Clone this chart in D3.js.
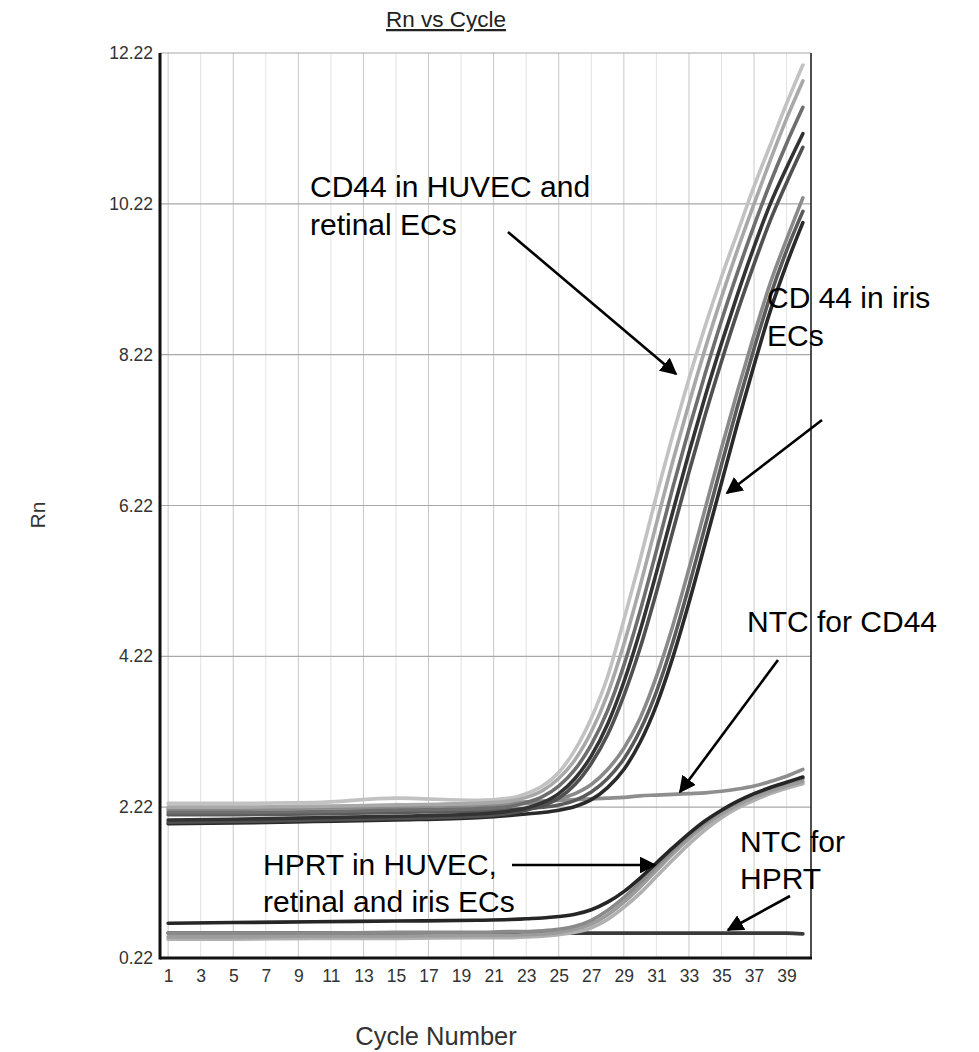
<!DOCTYPE html>
<html><head><meta charset="utf-8">
<script src="https://cdn.jsdelivr.net/npm/d3@7"></script>
<style>body{margin:0;background:#fff}svg{display:block}text{font-family:"Liberation Sans",Arial,sans-serif}</style>
</head><body><svg id="c" width="979" height="1052"></svg>
<script>
// ---- data ----
const cycles = [1,5,10,15,20,22,23,24,25,26,27,28,29,30,31,32,33,34,35,36,37,38,39,40];
const xTicks = d3.range(1,40,2);
const yTicks = [0.22,2.22,4.22,6.22,8.22,10.22,12.22];
// CD44 in HUVEC and retinal ECs
const cd44L1 = [2.27,2.27,2.28,2.34,2.31,2.34,2.40,2.50,2.68,2.98,3.40,3.95,4.70,5.50,6.35,7.15,7.90,8.60,9.25,9.85,10.45,11.00,11.55,12.06];
const cd44L2 = [2.22,2.22,2.23,2.25,2.27,2.30,2.35,2.44,2.60,2.85,3.22,3.72,4.38,5.15,5.98,6.80,7.57,8.30,8.98,9.62,10.22,10.80,11.35,11.85];
const cd44L3 = [2.15,2.15,2.16,2.18,2.20,2.23,2.28,2.36,2.50,2.72,3.05,3.50,4.10,4.82,5.62,6.45,7.23,7.97,8.67,9.32,9.93,10.50,11.02,11.50];
const cd44L4 = [2.05,2.06,2.08,2.10,2.13,2.17,2.21,2.28,2.40,2.60,2.90,3.32,3.88,4.56,5.33,6.13,6.92,7.67,8.37,9.03,9.65,10.22,10.70,11.15];
const cd44L5 = [2.02,2.03,2.05,2.07,2.10,2.14,2.18,2.24,2.34,2.52,2.80,3.18,3.70,4.33,5.07,5.87,6.66,7.42,8.13,8.80,9.42,10.00,10.50,10.97];
// CD44 in iris ECs
const cd44R1 = [2.20,2.20,2.21,2.22,2.24,2.26,2.27,2.29,2.33,2.40,2.52,2.72,3.00,3.40,3.95,4.62,5.38,6.18,6.98,7.75,8.48,9.17,9.75,10.30];
const cd44R2 = [2.12,2.12,2.13,2.15,2.17,2.19,2.20,2.22,2.25,2.31,2.42,2.60,2.86,3.24,3.75,4.40,5.15,5.95,6.76,7.55,8.30,9.00,9.60,10.12];
const cd44R3 = [2.00,2.01,2.03,2.05,2.08,2.11,2.13,2.15,2.18,2.23,2.32,2.48,2.72,3.08,3.57,4.20,4.93,5.72,6.52,7.32,8.08,8.80,9.42,9.97];
// NTC for CD44
const ntcCD44 = [2.18,2.19,2.21,2.23,2.27,2.28,2.29,2.30,2.31,2.32,2.33,2.34,2.35,2.37,2.38,2.39,2.40,2.41,2.43,2.46,2.50,2.56,2.63,2.72];
// HPRT in HUVEC, retinal and iris ECs
const hprtH1 = [0.68,0.69,0.70,0.71,0.72,0.73,0.74,0.75,0.77,0.80,0.86,0.96,1.10,1.28,1.48,1.68,1.87,2.04,2.18,2.30,2.40,2.48,2.55,2.62];
const hprtH2 = [0.55,0.55,0.55,0.56,0.56,0.57,0.57,0.58,0.60,0.64,0.72,0.85,1.02,1.22,1.44,1.65,1.85,2.02,2.17,2.29,2.39,2.47,2.54,2.60];
const hprtH3 = [0.50,0.50,0.51,0.51,0.52,0.52,0.53,0.54,0.56,0.60,0.67,0.79,0.96,1.16,1.38,1.60,1.80,1.98,2.13,2.25,2.35,2.43,2.50,2.56];
const hprtH4 = [0.47,0.47,0.48,0.48,0.49,0.49,0.50,0.51,0.53,0.56,0.62,0.73,0.89,1.08,1.30,1.52,1.73,1.92,2.08,2.21,2.31,2.40,2.47,2.53];
// NTC for HPRT
const ntcHPRT = [0.55,0.55,0.55,0.55,0.55,0.55,0.55,0.55,0.55,0.55,0.55,0.55,0.55,0.55,0.55,0.55,0.55,0.55,0.55,0.55,0.55,0.55,0.55,0.54];

const series = [
  {v:ntcHPRT,c:"#3a3a3a"},
  {v:hprtH4,c:"#b0b0b0"},{v:hprtH3,c:"#9c9c9c"},{v:hprtH2,c:"#8a8a8a"},{v:hprtH1,c:"#262626"},
  {v:ntcCD44,c:"#8e8e8e"},
  {v:cd44R1,c:"#8a8a8a"},{v:cd44R2,c:"#5a5a5a"},{v:cd44R3,c:"#2a2a2a"},
  {v:cd44L1,c:"#c2c2c2"},{v:cd44L2,c:"#a8a8a8"},{v:cd44L3,c:"#6e6e6e"},{v:cd44L5,c:"#505050"},{v:cd44L4,c:"#333333"}
];

// ---- layout ----
const svg = d3.select("#c");
const X0=160, X1=811, Y0=958, Y1=53;
const x = d3.scaleLinear().domain([0.5,40.5]).range([X0,X1]);
const y = d3.scaleLinear().domain([0.22,12.22]).range([Y0,Y1]);

// grid
const g = svg.append("g");
g.selectAll(".vg").data(xTicks).join("line")
  .attr("x1",d=>x(d)).attr("x2",d=>x(d)).attr("y1",Y1).attr("y2",Y0)
  .attr("stroke",(d,i)=> i%2===0 ? "#c8c8c8" : "#e2e2e2").attr("stroke-width",1);
g.selectAll(".hg").data(yTicks.slice(1)).join("line")
  .attr("x1",X0).attr("x2",X1).attr("y1",d=>y(d)).attr("y2",d=>y(d))
  .attr("stroke","#a8a8a8").attr("stroke-width",1.2);

// curves
const line = d3.line().x((d,i)=>x(cycles[i])).y(d=>y(d)).curve(d3.curveMonotoneX);
svg.append("g").selectAll("path").data(series).join("path")
  .attr("d",d=>line(d.v)).attr("fill","none").attr("stroke",d=>d.c)
  .attr("stroke-width",3.6).attr("stroke-linecap","round");

// frame
svg.append("line").attr("x1",X1).attr("x2",X1).attr("y1",Y1).attr("y2",Y0).attr("stroke","#222").attr("stroke-width",1.6);
svg.append("line").attr("x1",X0).attr("x2",X1+1).attr("y1",Y0).attr("y2",Y0).attr("stroke","#111").attr("stroke-width",3);
svg.append("line").attr("x1",X0).attr("x2",X0).attr("y1",Y1).attr("y2",Y0+1.5).attr("stroke","#111").attr("stroke-width",3);

// axes labels
const yAxis = d3.axisLeft(y).tickValues(yTicks).tickFormat(d3.format(".2f")).tickSize(0).tickPadding(7);
const ya = svg.append("g").attr("transform",`translate(${X0},0)`).call(yAxis);
ya.select(".domain").remove();
ya.selectAll("text").attr("font-size",17.5).attr("fill","#333").style("font-family","Liberation Sans, Arial");
const xAxis = d3.axisBottom(x).tickValues(xTicks).tickFormat(d3.format("d")).tickSize(0).tickPadding(12);
const xa = svg.append("g").attr("transform",`translate(0,${Y0})`).call(xAxis);
xa.select(".domain").remove();
xa.selectAll("text").attr("font-size",17.5).attr("fill","#333").style("font-family","Liberation Sans, Arial");

// titles
svg.append("text").attr("x",446).attr("y",27).attr("text-anchor","middle").attr("font-size",22.5).attr("fill","#222")
  .attr("text-decoration","underline").text("Rn vs Cycle");
svg.append("text").attr("transform","translate(45,515) rotate(-90)").attr("text-anchor","middle").attr("font-size",21).attr("fill","#333").text("Rn");
svg.append("text").attr("x",436).attr("y",1045).attr("text-anchor","middle").attr("font-size",25.5).attr("fill","#333").text("Cycle Number");

// annotations
const notes = [
  {t:"CD44 in HUVEC and",x:310,y:197},{t:"retinal ECs",x:310,y:235},
  {t:"CD 44 in iris",x:767,y:308},{t:"ECs",x:767,y:346},
  {t:"NTC for CD44",x:747,y:632},
  {t:"HPRT in HUVEC,",x:263,y:875},{t:"retinal and iris ECs",x:263,y:912},
  {t:"NTC for",x:740,y:852},{t:"HPRT",x:740,y:889}
];
svg.append("g").selectAll("text").data(notes).join("text")
  .attr("x",d=>d.x).attr("y",d=>d.y).attr("font-size",30).attr("fill","#000").text(d=>d.t);

svg.append("defs").append("marker").attr("id","ah").attr("viewBox","0 0 10 10").attr("refX",9).attr("refY",5)
  .attr("markerWidth",6.5).attr("markerHeight",6.5).attr("orient","auto").attr("markerUnits","strokeWidth")
  .append("path").attr("d","M0,0 L10,5 L0,10 Z").attr("fill","#000");
const arrows = [
  [508,232,676,374],[822,420,727,493],[778,660,680,792],[512,865,655,865],[790,896,728,930]
];
svg.append("g").selectAll("line").data(arrows).join("line")
  .attr("x1",d=>d[0]).attr("y1",d=>d[1]).attr("x2",d=>d[2]).attr("y2",d=>d[3])
  .attr("stroke","#000").attr("stroke-width",2.6).attr("marker-end","url(#ah)");
</script></body></html>
